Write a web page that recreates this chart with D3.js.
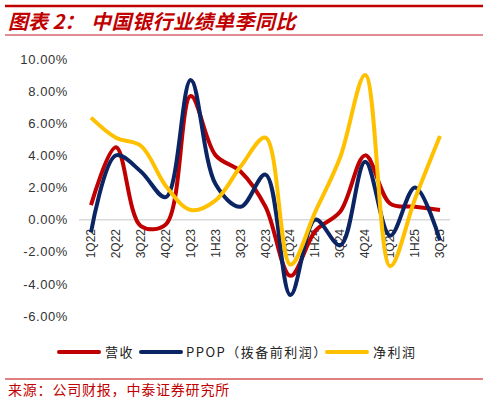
<!DOCTYPE html>
<html>
<head>
<meta charset="utf-8">
<script src="https://cdn.jsdelivr.net/npm/d3@7"></script>
<style>
  html, body { margin: 0; padding: 0; background: #fff; }
  svg { display: block; }
</style>
</head>
<body>
<svg id="svg" width="488" height="402"></svg>
<script>
'use strict';

const categories = ['1Q22', '2Q22', '3Q22', '4Q22', '1Q23', '1H23', '3Q23', '4Q23',
  '1Q24', '1H24', '3Q24', '4Q24', '1Q25', '1H25', '3Q25'];
const revenue = [0.9, 4.5, -0.4, -0.3, 7.7, 4.0, 3.0, 0.8, -3.5, -0.7, 0.5, 4.0, 1.0, 0.8, 0.6];
const ppop = [-0.8, 4.0, 3.0, 1.4, 8.7, 2.2, 0.8, 2.8, -4.7, 0.0, -1.6, 3.6, -1.0, 2.0, -1.3];
const netProfit = [6.35, 5.1, 4.6, 2.1, 0.6, 1.2, 3.3, 5.1, -2.8, 0.5, 3.9, 9.0, -2.9, 1.3, 5.2];
const yTicks = [-6, -4, -2, 0, 2, 4, 6, 8, 10];

const series = [
  { name: '营收', values: revenue, color: '#C00000' },
  { name: 'PPOP（拨备前利润）', values: ppop, color: '#0B2463' },
  { name: '净利润', values: netProfit, color: '#FFC000' },
];

const RED = '#C00000';
const svg = d3.select('#svg');

// Header and footer rules
svg.append('line')
  .attr('x1', 5).attr('x2', 483).attr('y1', 6).attr('y2', 6)
  .attr('stroke', RED).attr('stroke-width', 2.5);
svg.append('line')
  .attr('x1', 5).attr('x2', 483).attr('y1', 35).attr('y2', 35)
  .attr('stroke', '#D9676E').attr('stroke-width', 1.5);
svg.append('line')
  .attr('x1', 5).attr('x2', 483).attr('y1', 379).attr('y2', 379)
  .attr('stroke', RED).attr('stroke-width', 1.2);

const titleFont = '"Noto Sans CJK SC", sans-serif';
svg.append('text')
  .attr('x', 8).attr('y', 29)
  .attr('font-family', titleFont).attr('font-size', 20)
  .attr('font-weight', 'bold').attr('font-style', 'italic')
  .attr('fill', RED)
  .text('图表 2：');
svg.append('text')
  .attr('x', 91).attr('y', 29)
  .attr('font-family', titleFont).attr('font-size', 20)
  .attr('font-weight', 'bold').attr('font-style', 'italic')
  .attr('letter-spacing', 0.5)
  .attr('fill', RED)
  .text('中国银行业绩单季同比');

svg.append('text')
  .attr('x', 8).attr('y', 395)
  .attr('font-family', titleFont).attr('font-size', 14)
  .attr('letter-spacing', 0.8)
  .attr('fill', RED)
  .text('来源：公司财报，中泰证券研究所');

// Scales
const x = d3.scalePoint().domain(categories).range([91, 440]);
const y = d3.scaleLinear().domain([-6, 10]).range([316, 59]);

// Y axis labels
svg.append('g')
  .selectAll('text')
  .data(yTicks)
  .join('text')
  .attr('x', 68)
  .attr('y', d => y(d))
  .attr('dy', '0.36em')
  .attr('text-anchor', 'end')
  .attr('font-family', 'Liberation Sans, Arial, sans-serif')
  .attr('font-size', 13)
  .attr('letter-spacing', 0.6)
  .attr('fill', '#333')
  .text(d => d.toFixed(2) + '%');

// Zero line
svg.append('line')
  .attr('x1', 79).attr('x2', 450)
  .attr('y1', y(0)).attr('y2', y(0))
  .attr('stroke', '#D9D9D9').attr('stroke-width', 1.5);

// Category labels, rotated
svg.append('g')
  .selectAll('text')
  .data(categories)
  .join('text')
  .attr('transform', d => `translate(${x(d) + 4},229) rotate(-90)`)
  .attr('text-anchor', 'end')
  .attr('font-family', 'Liberation Sans, Arial, sans-serif')
  .attr('font-size', 12)
  .attr('fill', '#333')
  .text(d => d);

// Smoothed lines (centripetal Catmull-Rom keeps overshoot small like Excel)
const line = d3.line()
  .x((d, i) => x(categories[i]))
  .y(d => y(d))
  .curve(d3.curveCatmullRom.alpha(0.5));

svg.append('g')
  .selectAll('path')
  .data(series)
  .join('path')
  .attr('d', d => line(d.values))
  .attr('fill', 'none')
  .attr('stroke', d => d.color)
  .attr('stroke-width', 4)
  .attr('stroke-linejoin', 'round');

// Legend
const legendItems = [
  { x: 57, textX: 105 },
  { x: 139, textX: 186 },
  { x: 325, textX: 373 },
];
const legend = svg.append('g')
  .selectAll('g')
  .data(series)
  .join('g');
legend.append('line')
  .attr('x1', (d, i) => legendItems[i].x + 2)
  .attr('x2', (d, i) => legendItems[i].x + 42)
  .attr('y1', 352).attr('y2', 352)
  .attr('stroke', d => d.color)
  .attr('stroke-width', 4)
  .attr('stroke-linecap', 'round');
legend.append('text')
  .attr('x', (d, i) => legendItems[i].textX)
  .attr('y', 357)
  .attr('font-family', titleFont)
  .attr('font-size', 13)
  .attr('letter-spacing', 1.5)
  .attr('fill', '#222')
  .text(d => d.name);
</script>
</body>
</html>
